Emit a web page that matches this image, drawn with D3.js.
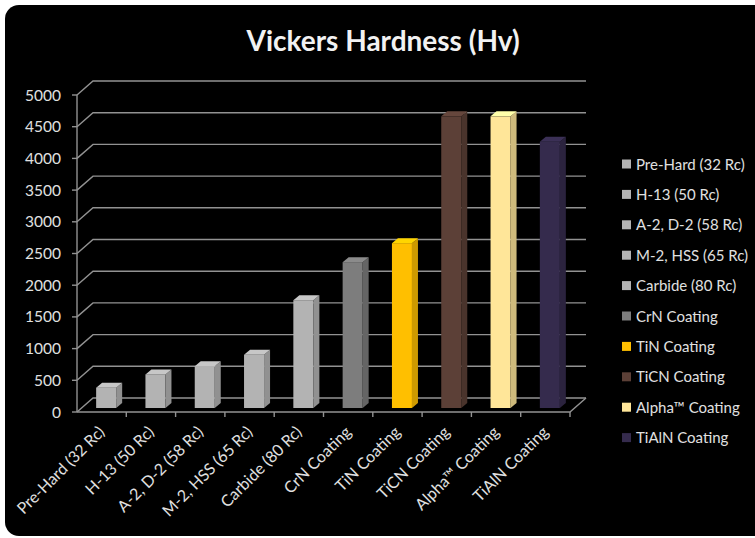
<!DOCTYPE html>
<html>
<head>
<meta charset="utf-8">
<script src="https://cdn.jsdelivr.net/npm/d3@7"></script>
<style>
  body { margin: 0; background: #fff; }
  svg { display: block; }
</style>
</head>
<body>
<svg id="chart" width="755" height="538"></svg>
<script>
// Vickers hardness of tool steels and coatings
const categories = ['Pre-Hard (32 Rc)', 'H-13 (50 Rc)', 'A-2, D-2 (58 Rc)', 'M-2, HSS (65 Rc)', 'Carbide (80 Rc)',
    'CrN Coating', 'TiN Coating', 'TiCN Coating', 'Alpha\u2122 Coating', 'TiAlN Coating']
const hardness = [320, 530, 660, 840, 1700, 2300, 2600, 4600, 4600, 4200]
const yTicks = [0, 500, 1000, 1500, 2000, 2500, 3000, 3500, 4000, 4500, 5000]

const frontColors = ['#b3b3b3', '#b3b3b3', '#b3b3b3', '#b3b3b3', '#b3b3b3', '#7d7d7d', '#ffbf00', '#5c4037', '#ffe699', '#352b4d']

const svg = d3.select('#chart')
const font = 'Lato, "Open Sans", sans-serif'

// black panel, right/bottom corners run off the page
svg.append('rect')
    .attr('x', 5).attr('y', 5)
    .attr('width', 780).attr('height', 531)
    .attr('rx', 14)
    .attr('fill', '#000')

svg.append('text')
    .attr('x', 383).attr('y', 51)
    .attr('text-anchor', 'middle')
    .style('font-family', font)
    .style('font-weight', 'bold')
    .style('font-size', '28px')
    .style('fill', '#f2f2f2')
    .text('Vickers Hardness (Hv)')

const left = 77, right = 570
const depth = { x: 16, y: -14 }
const barDepth = { x: 6, y: -5 }
const barShift = { x: 4.5, y: -4 }

const y = d3.scaleLinear().domain([0, 5000]).range([412, 95])
const x = d3.scaleBand().domain(categories).range([left, right])
    .paddingInner(0.594).paddingOuter(0.297)
const band = d3.scaleBand().domain(categories).range([left, right])

const gridColor = '#929292'
const grid = svg.append('g')

// gridlines on the back wall, with the short diagonal from the axis
grid.selectAll('path')
    .data(yTicks)
    .join('path')
    .attr('d', d => `M${left},${y(d)} L${left + depth.x},${y(d) + depth.y} L${right + depth.x},${y(d) + depth.y}`)
    .attr('fill', 'none')
    .attr('stroke', gridColor)
    .attr('stroke-width', 1.4)

// axis line, floor edge and tick marks
grid.append('line')
    .attr('x1', left).attr('x2', left).attr('y1', y(0)).attr('y2', y(5000))
    .attr('stroke', gridColor).attr('stroke-width', 1.4)
grid.append('path')
    .attr('d', `M${left},${y(0)} L${right},${y(0)} L${right + depth.x},${y(0) + depth.y}`)
    .attr('fill', 'none').attr('stroke', gridColor).attr('stroke-width', 1.4)
grid.selectAll('.ytick')
    .data(yTicks)
    .join('line')
    .attr('class', 'ytick')
    .attr('x1', left - 5).attr('x2', left).attr('y1', d => y(d)).attr('y2', d => y(d))
    .attr('stroke', gridColor).attr('stroke-width', 1.4)
grid.selectAll('.xtick')
    .data(categories)
    .join('line')
    .attr('class', 'xtick')
    .attr('x1', d => band(d) + band.bandwidth()).attr('x2', d => band(d) + band.bandwidth())
    .attr('y1', y(0)).attr('y2', y(0) + 5)
    .attr('stroke', gridColor).attr('stroke-width', 1.4)

svg.append('g')
    .selectAll('text')
    .data(yTicks)
    .join('text')
    .attr('x', 61)
    .attr('y', d => y(d) + 5.5)
    .attr('text-anchor', 'end')
    .style('font-family', font)
    .style('font-size', '15.5px')
    .style('fill', '#e0e0e0')
    .text(d => d)

// 3D columns: front, side and top faces
const bars = svg.append('g')
    .selectAll('g')
    .data(categories.map((c, i) => ({ cat: c, value: hardness[i], color: frontColors[i] })))
    .join('g')

const bx = d => x(d.cat) + barShift.x
const by = d => y(d.value) + barShift.y
const base = y(0) + barShift.y
const w = x.bandwidth()

bars.append('rect')
    .attr('x', bx)
    .attr('y', by)
    .attr('width', w)
    .attr('height', d => base - by(d))
    .attr('fill', d => d.color)

bars.append('path')
    .attr('d', d => `M${bx(d) + w},${by(d)} L${bx(d) + w + barDepth.x},${by(d) + barDepth.y} L${bx(d) + w + barDepth.x},${base + barDepth.y} L${bx(d) + w},${base} Z`)
    .attr('fill', d => d3.color(d.color).darker(0.6))

bars.append('path')
    .attr('d', d => `M${bx(d)},${by(d)} L${bx(d) + w},${by(d)} L${bx(d) + w + barDepth.x},${by(d) + barDepth.y} L${bx(d) + barDepth.x},${by(d) + barDepth.y} Z`)
    .attr('fill', d => d3.color(d.color).brighter(0.3))

// rotated category labels
svg.append('g')
    .selectAll('text')
    .data(categories)
    .join('text')
    .attr('transform', d => `translate(${band(d) + band.bandwidth() / 2 + 4},${y(0) + 21}) rotate(-45)`)
    .attr('text-anchor', 'end')
    .style('font-family', font)
    .style('font-size', '16px')
    .style('fill', '#e0e0e0')
    .text(d => d)

// legend
const legend = svg.append('g')
    .selectAll('g')
    .data(categories)
    .join('g')
    .attr('transform', (d, i) => `translate(622,${164 + i * 30.4})`)

legend.append('rect')
    .attr('x', 0).attr('y', -4.5)
    .attr('width', 9).attr('height', 9)
    .attr('fill', (d, i) => frontColors[i])

legend.append('text')
    .attr('x', 14).attr('y', 5.5)
    .style('font-family', font)
    .style('font-size', '15px')
    .style('fill', '#e0e0e0')
    .text(d => d)
</script>
</body>
</html>
